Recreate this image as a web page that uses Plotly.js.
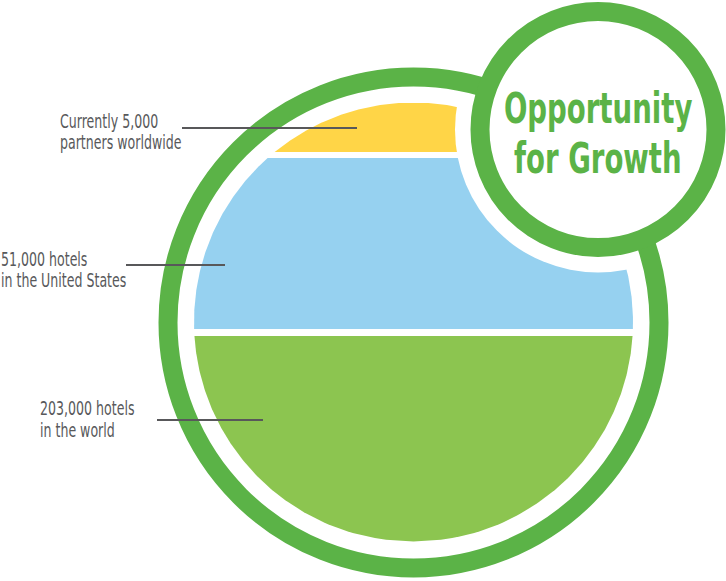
<!DOCTYPE html>
<html>
<head>
<meta charset="utf-8">
<script src="https://cdn.plot.ly/plotly-3.0.1.min.js"></script>
<style>
  html, body { margin: 0; padding: 0; background: #ffffff; }
  #chart { width: 726px; height: 581px; }
</style>
</head>
<body>
<div id="chart"></div>
<script>
// ---- data ----
const categories = ['Currently 5,000 partners worldwide', '51,000 hotels in the United States', '203,000 hotels in the world'];
const labelLines = [['Currently 5,000', 'partners worldwide'], ['51,000 hotels', 'in the United States'], ['203,000 hotels', 'in the world']];
const values = [5000, 51000, 203000];
const bandColors = ['#FFD547', '#96D1F0', '#8CC550'];
const titleLines = ['Opportunity', 'for Growth'];

// ---- geometry / style (pixel units, y downward) ----
const geo = {
  disc: { cx: 413.5, cy: 322, r: 219.5 },
  bandTop: [103, 158, 336],
  bandBottom: [152, 329, 541.5],
  ring: { cx: 413.5, cy: 322.5, r: 245.5, w: 19 },
  badge: { cx: 598, cy: 129.5, r: 118, w: 19, halo: 143 },
  labelX: [59, 0, 39],
  labelY: [[121, 142], [259, 280], [408, 430]],
  titleY: [108.5, 158.5],
  leader: [ { x0: 182, x1: 357, y: 128 }, { x0: 126, x1: 225, y: 265 }, { x0: 157, x1: 263, y: 420 } ]
};
const green = '#5BB347';
const textGray = '#58595B';
const lineGray = '#58585A';
const narrow = '"DejaVu Sans Condensed", "Liberation Sans", sans-serif';
const labelStretch = 0.70, titleStretch = 0.73;

function bandPolygon(top, bottom, d) {
  const n = 120, xs = [], ys = [];
  for (let i = 0; i <= n; i++) {
    const y = top + (bottom - top) * i / n;
    const w = Math.sqrt(Math.max(0, d.r * d.r - (y - d.cy) * (y - d.cy)));
    xs.push(d.cx + w); ys.push(y);
  }
  for (let i = n; i >= 0; i--) {
    const y = top + (bottom - top) * i / n;
    const w = Math.sqrt(Math.max(0, d.r * d.r - (y - d.cy) * (y - d.cy)));
    xs.push(d.cx - w); ys.push(y);
  }
  return { xs, ys };
}

const traces = categories.map((c, i) => {
  const p = bandPolygon(geo.bandTop[i], geo.bandBottom[i], geo.disc);
  return {
    type: 'scatter', mode: 'lines', x: p.xs, y: p.ys,
    fill: 'toself', fillcolor: bandColors[i],
    line: { width: 0, color: bandColors[i] },
    name: c, hoveron: 'fills',
    text: c + ': ' + values[i].toLocaleString('en-US'), hoverinfo: 'text'
  };
});

function circleShape(c, r, opts) {
  return Object.assign({ type: 'circle', xref: 'x', yref: 'y', layer: 'above',
    x0: c.cx - r, x1: c.cx + r, y0: c.cy - r, y1: c.cy + r }, opts);
}

const shapes = [
  circleShape(geo.badge, geo.badge.halo, { fillcolor: '#ffffff', line: { width: 0 } }),
  circleShape(geo.ring, geo.ring.r, { fillcolor: 'rgba(0,0,0,0)', line: { color: green, width: geo.ring.w } }),
  circleShape(geo.badge, geo.badge.r, { fillcolor: '#ffffff', line: { color: green, width: geo.badge.w } })
];
geo.leader.forEach(l => shapes.push({ type: 'line', xref: 'x', yref: 'y', layer: 'above',
  x0: l.x0, x1: l.x1, y0: l.y, y1: l.y, line: { color: lineGray, width: 2 } }));

const annotations = [];
const squeezeList = [];
labelLines.forEach((lines, i) => {
  lines.forEach((t, j) => {
    squeezeList.push({ idx: annotations.length, s: labelStretch, anchor: 'left' });
    annotations.push({
      x: geo.labelX[i], y: geo.labelY[i][j], xref: 'x', yref: 'y',
      xanchor: 'left', yanchor: 'middle', align: 'left', showarrow: false, borderpad: 0,
      text: t, font: { family: narrow, size: 20, color: textGray }
    });
  });
});
titleLines.forEach((t, j) => {
  squeezeList.push({ idx: annotations.length, s: titleStretch, anchor: 'center' });
  annotations.push({
    x: geo.badge.cx, y: geo.titleY[j], xref: 'x', yref: 'y', xanchor: 'center', yanchor: 'middle',
    align: 'center', showarrow: false, borderpad: 0, text: t,
    font: { family: narrow, size: 42, color: green, weight: 'bold' }
  });
});

const layout = {
  width: 726, height: 581,
  margin: { l: 0, r: 0, t: 0, b: 0, pad: 0 },
  paper_bgcolor: '#ffffff', plot_bgcolor: '#ffffff',
  showlegend: false,
  xaxis: { range: [0, 726], visible: false, fixedrange: true },
  yaxis: { range: [581, 0], visible: false, fixedrange: true },
  shapes: shapes, annotations: annotations,
  hovermode: 'closest'
};

function squeezeText() {
  squeezeList.forEach(q => {
    const el = document.querySelector('.annotation[data-index="' + q.idx + '"] text.annotation-text');
    if (!el) return;
    const prev = el.getAttribute('data-base-transform') !== null ? el.getAttribute('data-base-transform') : (el.getAttribute('transform') || '');
    el.setAttribute('data-base-transform', prev);
    el.setAttribute('transform', prev);
    const bb = el.getBBox();
    const ax = q.anchor === 'left' ? bb.x : bb.x + bb.width / 2;
    el.setAttribute('transform', prev + ' translate(' + ax + ',0) scale(' + q.s + ',1) translate(' + (-ax) + ',0)');
  });
}

Plotly.newPlot('chart', traces, layout, { displayModeBar: false }).then(gd => {
  squeezeText();
  gd.on('plotly_afterplot', squeezeText);
});
</script>
</body>
</html>
